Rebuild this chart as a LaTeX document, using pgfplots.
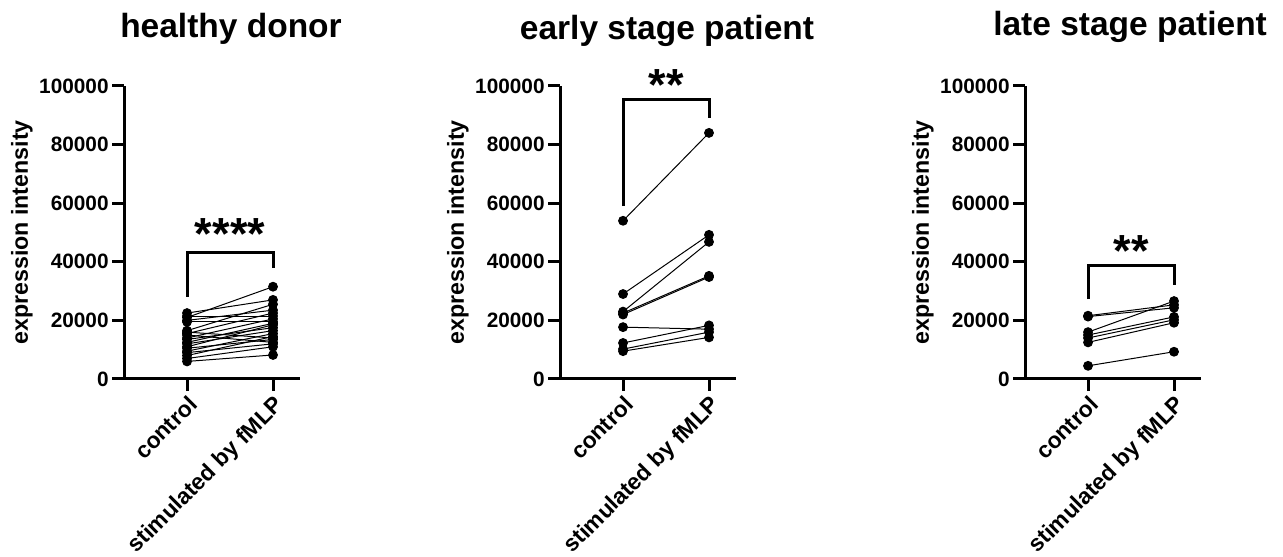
\documentclass[border=0pt]{standalone}
\usepackage{pgfplots}
\pgfplotsset{compat=1.18}
\usepackage{fontspec}
\setmainfont{Liberation Sans}

\pgfplotsset{
  panel/.style={
    scale only axis, width=88pt, height=146.5pt, anchor=south west,
    xmin=-0.733, xmax=1.314, ymin=0, ymax=100000,
    axis lines=left,
    axis line style={line width=1.5pt, -},
    xtick={0,1}, xticklabels={control, stimulated by fMLP},
    ytick={0,20000,40000,60000,80000,100000},
    scaled y ticks=false,
    yticklabel={\pgfmathprintnumber[fixed, precision=0, set thousands separator={}, assume math mode=true]{\tick}},
    tick style={line width=1.5pt, black},
    major tick length=6pt,
    tick align=outside,
    yticklabel style={font=\fontsize{10.4}{12}\selectfont\bfseries, inner sep=1.5pt},
    xticklabel style={font=\fontsize{11.4}{13}\selectfont\bfseries, rotate=45, anchor=north east, inner sep=1pt},
    ylabel={expression intensity},
    ylabel style={font=\fontsize{11.6}{13}\selectfont\bfseries, at={(axis description cs:-0.58,0.5)}, anchor=center},
    clip=false,
  },
  pair/.style={black, line width=0.5pt, mark=*, mark size=2.2pt, mark options={solid, fill=black}},
  brk/.style={black, line width=1.5pt, no marks},
}
\newcommand{\ttl}{\fontsize{16.75}{18}\selectfont\bfseries}
\newcommand{\stars}{\fontsize{22.5}{24}\selectfont\bfseries}

\begin{document}
\begin{tikzpicture}
\useasboundingbox (0,0) rectangle (641.5pt,278pt);

% ---------------- healthy donor ----------------
\begin{axis}[panel, at={(62pt,88.5pt)}]
\addplot[pair] coordinates {(0,22500) (1,27000)};
\addplot[pair] coordinates {(0,21000) (1,31500)};
\addplot[pair] coordinates {(0,21500) (1,21500)};
\addplot[pair] coordinates {(0,20000) (1,23500)};
\addplot[pair] coordinates {(0,19500) (1,19500)};
\addplot[pair] coordinates {(0,16500) (1,25500)};
\addplot[pair] coordinates {(0,16000) (1,14000)};
\addplot[pair] coordinates {(0,15500) (1,22500)};
\addplot[pair] coordinates {(0,15000) (1,12500)};
\addplot[pair] coordinates {(0,14000) (1,20500)};
\addplot[pair] coordinates {(0,13500) (1,17500)};
\addplot[pair] coordinates {(0,12500) (1,19000)};
\addplot[pair] coordinates {(0,12000) (1,16500)};
\addplot[pair] coordinates {(0,11000) (1,18500)};
\addplot[pair] coordinates {(0,10500) (1,13500)};
\addplot[pair] coordinates {(0,9500) (1,15500)};
\addplot[pair] coordinates {(0,9000) (1,12000)};
\addplot[pair] coordinates {(0,8000) (1,14500)};
\addplot[pair] coordinates {(0,7000) (1,11000)};
\addplot[pair] coordinates {(0,6000) (1,8200)};
\addplot[brk] coordinates {(0,28000) (0,43300) (1,43300) (1,38000)};
\node[font=\stars, anchor=base] at (axis cs:0.5,44300) {****};
\node[font=\ttl, anchor=base] at (rel axis cs:0.608,1.167) {healthy donor};
\end{axis}

% ---------------- early stage patient ----------------
\begin{axis}[panel, at={(280pt,88.5pt)}]
\addplot[pair] coordinates {(0,54000) (1,84000)};
\addplot[pair] coordinates {(0,29000) (1,49200)};
\addplot[pair] coordinates {(0,23000) (1,46800)};
\addplot[pair] coordinates {(0,22500) (1,35200)};
\addplot[pair] coordinates {(0,22000) (1,34800)};
\addplot[pair] coordinates {(0,17700) (1,17000)};
\addplot[pair] coordinates {(0,12300) (1,18300)};
\addplot[pair] coordinates {(0,10200) (1,16000)};
\addplot[pair] coordinates {(0,9500) (1,14200)};
\addplot[brk] coordinates {(0,59000) (0,95500) (1,95500) (1,89000)};
\node[font=\stars, anchor=base] at (axis cs:0.5,95000) {**};
\node[font=\ttl, anchor=base] at (rel axis cs:0.608,1.157) {early stage patient};
\end{axis}

% ---------------- late stage patient ----------------
\begin{axis}[panel, at={(512.5pt,88.5pt)}]
\addplot[pair] coordinates {(0,21600) (1,25300)};
\addplot[pair] coordinates {(0,21300) (1,24300)};
\addplot[pair] coordinates {(0,16000) (1,26600)};
\addplot[pair] coordinates {(0,15000) (1,21200)};
\addplot[pair] coordinates {(0,14000) (1,20200)};
\addplot[pair] coordinates {(0,12500) (1,19200)};
\addplot[pair] coordinates {(0,4500) (1,9300)};
\addplot[brk] coordinates {(0,27300) (0,38600) (1,38600) (1,32000)};
\node[font=\stars, anchor=base] at (axis cs:0.5,38400) {**};
\node[font=\ttl, anchor=base] at (rel axis cs:0.597,1.171) {late stage patient};
\end{axis}
\end{tikzpicture}
\end{document}
